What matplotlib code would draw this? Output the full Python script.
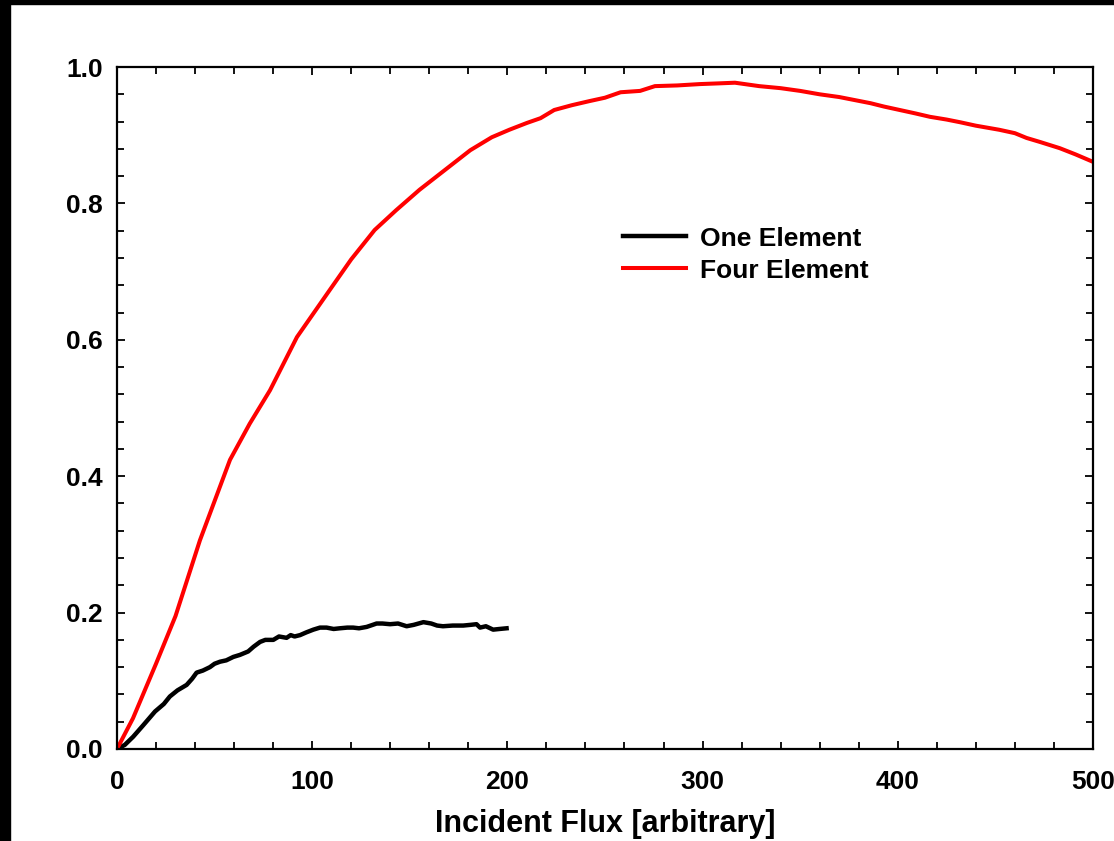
import matplotlib.pyplot as plt
from matplotlib.patches import Rectangle
from matplotlib.ticker import MultipleLocator

plt.rcParams['font.family'] = ['Liberation Sans', 'DejaVu Sans']
plt.rcParams['font.weight'] = 'bold'

# One Element (noisy measured curve)
one_x = [0, 4, 8.3, 13.5, 19.5, 24, 27.1, 31, 35.7, 38.5, 40.8, 44, 47.6, 50, 52.8, 56,
         59.6, 63, 67.2, 70, 73.3, 76, 80.1, 83, 86.9, 89, 91, 93.8, 97, 100.6, 104,
         107.4, 111, 114.2, 118, 121, 124, 127.9, 131, 133, 136, 139.9, 144, 148.4,
         152, 157, 161, 164, 167, 172, 177.4, 181, 184.2, 186, 189, 192.7, 196, 199.6]
one_y = [0.0, 0.006, 0.018, 0.035, 0.055, 0.066, 0.077, 0.086, 0.094, 0.103, 0.112, 0.115,
         0.120, 0.125, 0.128, 0.130, 0.135, 0.138, 0.143, 0.150, 0.157, 0.160, 0.160, 0.165,
         0.163, 0.167, 0.165, 0.167, 0.171, 0.175, 0.178, 0.178, 0.176, 0.177, 0.178, 0.178,
         0.177, 0.179, 0.182, 0.184, 0.184, 0.183, 0.184, 0.180, 0.182, 0.186, 0.184, 0.181,
         0.180, 0.181, 0.181, 0.182, 0.183, 0.178, 0.180, 0.175, 0.176, 0.177]

# Four Element
four_x = [0, 8.2, 20, 30, 42.5, 57.9, 68, 78.4, 92.2, 109, 120, 132, 143, 155, 168, 181,
          192, 201, 210, 217, 224, 233, 242, 250, 258, 268, 275.6, 287, 298.7, 308, 316.6,
          329, 340, 350, 360, 370, 386, 393, 401, 409, 416.5, 425, 432, 440, 452, 460, 466,
          473, 483, 491, 500]
four_y = [0.0, 0.045, 0.125, 0.195, 0.306, 0.424, 0.477, 0.526, 0.604, 0.673, 0.718, 0.761,
          0.790, 0.820, 0.849, 0.878, 0.897, 0.908, 0.918, 0.925, 0.937, 0.944, 0.950, 0.955,
          0.963, 0.965, 0.972, 0.973, 0.975, 0.976, 0.977, 0.972, 0.969, 0.965, 0.960,
          0.956, 0.947, 0.942, 0.937, 0.932, 0.927, 0.923, 0.919, 0.914, 0.908, 0.903,
          0.896, 0.890, 0.881, 0.872, 0.861]

fig = plt.figure(figsize=(11.14, 8.41), dpi=100)
ax = fig.add_axes([0.105, 0.1094, 0.8761, 0.8109])

ax.plot(one_x, one_y, color='black', lw=3.2, label='One Element', solid_joinstyle='round')
ax.plot(four_x, four_y, color='#ff0000', lw=2.9, label='Four Element')

ax.set_xlim(0, 500)
ax.set_ylim(0, 1.0)
ax.xaxis.set_major_locator(MultipleLocator(100))
ax.xaxis.set_minor_locator(MultipleLocator(20))
ax.yaxis.set_major_locator(MultipleLocator(0.2))
ax.yaxis.set_minor_locator(MultipleLocator(0.04))
ax.yaxis.set_major_formatter(plt.FormatStrFormatter('%.1f'))

for s in ax.spines.values():
    s.set_linewidth(1.6)
ax.tick_params(which='both', direction='in', top=True, right=True, width=1.3)
ax.tick_params(which='major', length=6)
ax.tick_params(which='minor', length=5)
ax.tick_params(axis='x', which='major', labelsize=19, pad=15)
ax.tick_params(axis='y', which='major', labelsize=19, pad=10)

ax.set_xlabel('Incident Flux [arbitrary]', fontsize=22, fontweight='bold', labelpad=11)

ax.legend(loc='upper left', bbox_to_anchor=(623 / 1114, 1 - 226.5 / 841),
          bbox_transform=fig.transFigure, frameon=False, fontsize=19,
          handlelength=2.4, handletextpad=0.5, labelspacing=0.31, borderpad=0,
          borderaxespad=0)

# black scan edges of the original figure
fig.patches.append(Rectangle((0, 0), 10 / 1114, 1, transform=fig.transFigure,
                             color='black', zorder=10))
fig.patches.append(Rectangle((0, 1 - 3.5 / 841), 1, 3.5 / 841, transform=fig.transFigure,
                             color='black', zorder=10))

fig.savefig('out.png', dpi=100)
